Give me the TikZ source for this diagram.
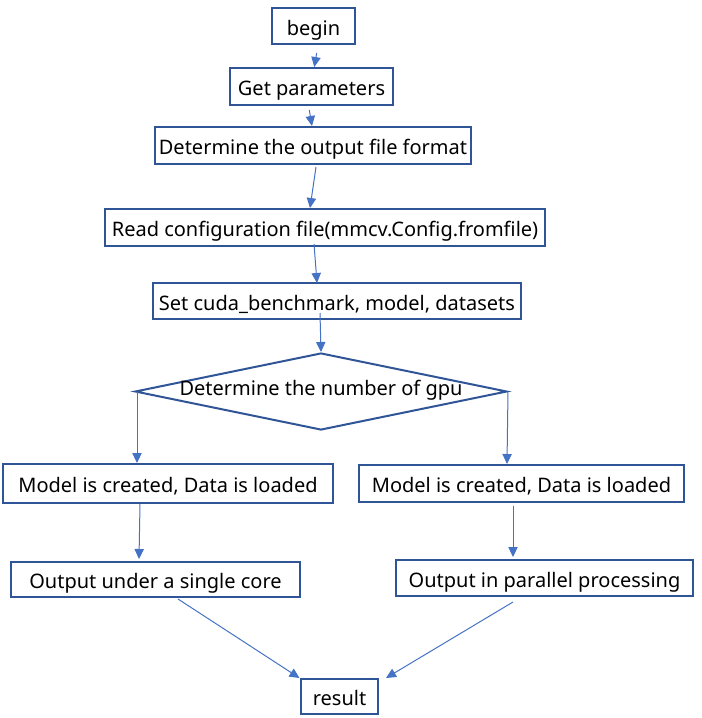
\documentclass[tikz,border=0pt]{standalone}
\usepackage{fontspec}
\setmainfont{Noto Sans}
\usetikzlibrary{shapes.geometric,arrows.meta}
\definecolor{boxc}{HTML}{2F5597}
\definecolor{arrc}{HTML}{4472C4}
\begin{document}
\begin{tikzpicture}[x=0.75pt,y=-0.75pt,
  stepbox/.style={draw=boxc,line width=1.5pt,inner sep=0pt,font=\fontsize{15}{17}\selectfont,text=black,text height=15.5pt,text depth=2pt},
  decbox/.style={draw=boxc,line width=1.5pt,shape=diamond,aspect=4.83,inner sep=0pt,font=\fontsize{15}{17}\selectfont,text=black,text height=8pt,text depth=2pt},
  conn/.style={draw=arrc,line width=0.75pt,-{Triangle[length=7.5pt,width=7pt]}}]
\useasboundingbox (0,0) rectangle (701,718);
\node[stepbox,minimum width=62.25pt,minimum height=27pt] (begin) at (313.5,26) {begin};
\node[stepbox,minimum width=122.25pt,minimum height=27.75pt] (getp) at (311.5,86.5) {Get parameters};
\node[stepbox,minimum width=237pt,minimum height=27.75pt] (fmt) at (313,145.5) {Determine the output file format};
\node[stepbox,minimum width=330pt,minimum height=27.75pt] (cfg) at (325,227.5) {Read configuration file(mmcv.Config.fromfile)};
\node[stepbox,minimum width=276pt,minimum height=27pt] (cuda) at (337,301) {Set cuda\_benchmark, model, datasets};
\node[decbox,minimum width=279pt,minimum height=57.75pt] (dia) at (321,391.5) {Determine the number of gpu};
\node[stepbox,minimum width=247.5pt,minimum height=29.25pt] (mL) at (168,483.5) {Model is created, Data is loaded};
\node[stepbox,minimum width=243.75pt,minimum height=27.75pt] (mR) at (521.5,483.5) {Model is created, Data is loaded};
\node[stepbox,minimum width=216.75pt,minimum height=26.25pt] (oL) at (155.5,579.5) {Output under a single core};
\node[stepbox,minimum width=222.75pt,minimum height=27pt] (oR) at (544.5,578) {Output in parallel processing};
\node[stepbox,minimum width=57.75pt,minimum height=26.25pt] (res) at (339.5,696.5) {result};
\draw[conn] ([shift={(3.2,8)}]begin.south) -- ([shift={(2.8,0)}]getp.north);
\draw[conn] ([shift={(-2.2,4)}]getp.south) -- ([shift={(-1,0)}]fmt.north);
\draw[conn] ([shift={(3,2)}]fmt.south) -- ([shift={(-15,0)}]cfg.north);
\draw[conn] ([shift={(-11,-3)}]cfg.south) -- ([shift={(-20,1)}]cuda.north);
\draw[conn] ([shift={(-17,-7)}]cuda.south) -- (dia.north);
\draw[conn] ([shift={(3,0)}]dia.west) -- ([shift={(-31,0)}]mL.north);
\draw[conn] (dia.east) -- ([shift={(-14.5,0)}]mR.north);
\draw[conn] ([shift={(-28,0)}]mL.south) -- ([shift={(-16.5,-2)}]oL.north);
\draw[conn] ([shift={(-8.5,3)}]mR.south) -- ([shift={(-31.5,-2)}]oR.north);
\draw[conn] ([shift={(22.5,1)}]oL.south) -- ([shift={(-40,0)}]res.north);
\draw[conn] ([shift={(-31.5,5)}]oR.south) -- ([shift={(46.5,0)}]res.north);
\end{tikzpicture}
\end{document}
